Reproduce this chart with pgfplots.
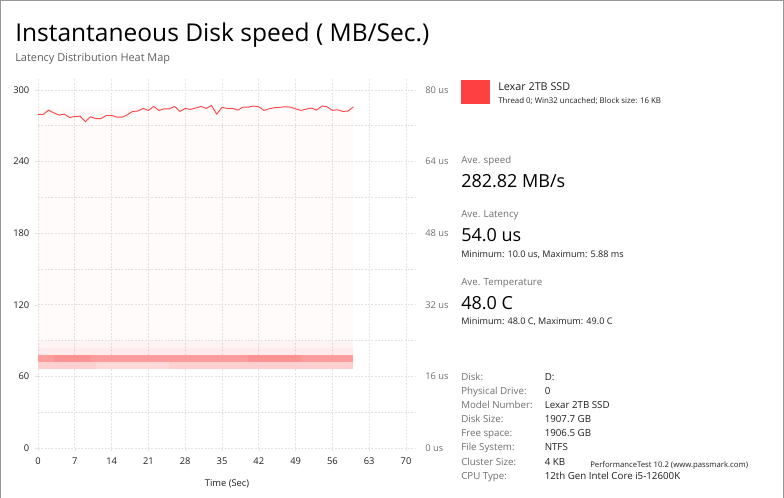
\documentclass[border=0pt]{standalone}
\usepackage{fontspec}
\setmainfont{Open Sans}
\usepackage{pgfplots}
\pgfplotsset{compat=1.18}
\definecolor{lineRed}{HTML}{FF4545}
\definecolor{boxRed}{HTML}{FF4040}
\definecolor{hmDark}{HTML}{FF9C9C}
\definecolor{hmDark2}{HTML}{FF9292}
\definecolor{hmMid}{HTML}{FFD0D0}
\definecolor{hmMid2}{HTML}{FFD9D9}
\definecolor{hmTint}{HTML}{FF2020}
\definecolor{gridGray}{HTML}{E3E3E3}
\definecolor{txtGray}{HTML}{6E6E6E}
\definecolor{txtDark}{HTML}{1E1E1E}
\newcommand{\tickfont}{\fontsize{7}{8}\selectfont}
\newcommand{\smallfont}{\fontsize{7.3}{9}\selectfont}
\newcommand{\bigfont}{\fontsize{13.5}{16}\selectfont}
\pgfplotsset{
  common/.style={
    at={(28.5pt,37.5pt)}, anchor=origin,
    scale only axis, width=283.5pt, height=277.5pt,
    xmin=0, xmax=71.9,
    axis line style={draw=none},
    xtick={0,7,...,70},
    tick align=outside, major tick length=2.5pt,
    /pgf/number format/assume math mode=true,
    tick label style={font=\tickfont, text=txtDark},
  }
}

\begin{document}
\begin{tikzpicture}
\begin{scope}[x=0.75pt,y=0.75pt]
\path[use as bounding box] (0,0) rectangle (784,498);
\draw[gray!80, line width=1pt] (0.5,0) -- (0.5,497.5) -- (783.5,497.5) -- (783.5,0);
\end{scope}

% heat map, latency axis (us) on the right; grid lies under the heat cells
\begin{axis}[common,
  ymin=0, ymax=82.67,
  axis y line*=right, axis x line*=bottom,
  ytick={0,16,...,80}, minor ytick={8,24,...,72},
  yticklabels={0 us,16 us,32 us,48 us,64 us,80 us},
  grid=both,
  major grid style={gridGray, dash pattern=on 1.5pt off 1pt, line width=0.5pt},
  minor grid style={gridGray, dash pattern=on 1.5pt off 1pt, line width=0.5pt},
  minor tick length=0pt,
  x tick style={gridGray}, y tick style={draw=none},
  xticklabel style={yshift=-1.5pt},
  yticklabel style={text=txtGray, xshift=1pt},
  xlabel={Time (Sec)}, xlabel style={font=\tickfont, text=txtDark, yshift=-4.5pt},
]
\addplot[fill=hmTint, fill opacity=0.018, draw=none] coordinates {(0,23.9) (60,23.9) (60,76) (0,76)};
\addplot[fill=hmTint, fill opacity=0.05, draw=none] coordinates {(0,22.4) (60,22.4) (60,23.9) (0,23.9)};
\addplot[fill=hmTint, fill opacity=0.09, draw=none] coordinates {(0,20.8) (60,20.8) (60,22.4) (0,22.4)};
\addplot[fill=hmDark, draw=none] coordinates {(0,19.2) (60,19.2) (60,20.8) (0,20.8)};
\addplot[fill=hmDark2, draw=none] coordinates {(3,19.2) (10,19.2) (10,20.8) (3,20.8)};
\addplot[fill=hmDark2, draw=none] coordinates {(40,19.2) (50,19.2) (50,20.8) (40,20.8)};
\addplot[fill=hmMid, draw=none] coordinates {(0,17.6) (60,17.6) (60,19.2) (0,19.2)};
\addplot[fill=hmMid2, draw=none] coordinates {(11,17.6) (25,17.6) (25,19.2) (11,19.2)};
\end{axis}

% speed axis (MB/s) on the left
\begin{axis}[common,
  ymin=0, ymax=310,
  axis y line*=left, axis x line*=bottom,
  xticklabels={},
  ytick={0,60,...,300},
  y tick style={gridGray}, x tick style={draw=none},
  yticklabel style={xshift=-0.5pt},
]
\addplot[lineRed, line width=0.7pt] coordinates {
(0,279.4)(1,279.4)(2,283.1)(3,280.8)(4,278.9)(5,279.7)(6,276.9)(7,277.7)
(8,278.0)(9,273.5)(10,277.5)(11,276.0)(12,276.0)(13,278.6)(14,278.6)(15,277.2)
(16,277.2)(17,279.2)(18,282.0)(19,282.3)(20,284.5)(21,282.8)(22,286.2)(23,282.8)
(24,284.2)(25,284.2)(26,286.2)(27,282.0)(28,284.5)(29,283.7)(30,284.8)(31,286.2)
(32,284.5)(33,287.0)(34,279.7)(35,285.4)(36,284.5)(37,284.5)(38,283.1)(39,285.6)
(40,285.6)(41,286.5)(42,285.9)(43,282.8)(44,284.2)(45,285.1)(46,285.4)(47,285.9)
(48,285.6)(49,284.2)(50,282.8)(51,283.9)(52,284.8)(53,283.1)(54,286.5)(55,285.9)
(56,282.8)(57,283.4)(58,282.0)(59,282.3)(60,285.9)};
\end{axis}

\begin{scope}[x=0.75pt,y=0.75pt]
% titles
\node[anchor=base west, inner sep=0, text=black] at (15,456) {\fontsize{18.4}{21}\selectfont Instantaneous Disk speed ( MB/Sec.)};
\node[anchor=base west, inner sep=0, text=txtGray!85!black] at (15,436.5) {\fontsize{8.2}{10}\selectfont Latency Distribution Heat Map};

% legend
\fill[boxRed] (461,394) rectangle (490,418);
\node[anchor=base west, inner sep=0, text=txtDark] at (498,407.3) {\fontsize{8.1}{10}\selectfont Lexar 2TB SSD};
\node[anchor=base west, inner sep=0, text=txtDark] at (498,394.7) {\fontsize{5.9}{7}\selectfont Thread 0; Win32 uncached; Block size: 16 KB};

% summary
\node[anchor=base west, inner sep=0, text=txtGray] at (461,334) {\smallfont Ave. speed};
\node[anchor=base west, inner sep=0, text=black] at (461,310.3) {\bigfont 282.82 MB/s};
\node[anchor=base west, inner sep=0, text=txtGray] at (461,280.7) {\smallfont Ave. Latency};
\node[anchor=base west, inner sep=0, text=black] at (461,256.3) {\bigfont 54.0 us};
\node[anchor=base west, inner sep=0, text=txtDark] at (461,240.7) {\fontsize{6.8}{8}\selectfont Minimum: 10.0 us, Maximum: 5.88 ms};
\node[anchor=base west, inner sep=0, text=txtGray] at (461,212.7) {\smallfont Ave. Temperature};
\node[anchor=base west, inner sep=0, text=black] at (461,188.7) {\bigfont 48.0 C};
\node[anchor=base west, inner sep=0, text=txtDark] at (461,173) {\fontsize{6.8}{8}\selectfont Minimum: 48.0 C, Maximum: 49.0 C};

% disk details
\foreach \yy/\lab/\val in {
  117.5/Disk:/D:,
  103.4/Physical Drive:/0,
  89.3/Model Number:/Lexar 2TB SSD,
  75.2/Disk Size:/1907.7 GB,
  61.1/Free space:/1906.5 GB,
  47.0/File System:/NTFS,
  32.9/Cluster Size:/4 KB,
  18.8/CPU Type:/12th Gen Intel Core i5-12600K}{
  \node[anchor=base west, inner sep=0, text=txtGray] at (461,\yy) {\fontsize{7.3}{9}\selectfont \lab};
  \node[anchor=base west, inner sep=0, text=txtDark] at (544.5,\yy) {\fontsize{7.3}{9}\selectfont \val};
}
\node[anchor=base west, inner sep=0, text=txtDark] at (590,30.7) {\fontsize{5.8}{7}\selectfont PerformanceTest 10.2 (www.passmark.com)};
\end{scope}
\end{tikzpicture}
\end{document}
